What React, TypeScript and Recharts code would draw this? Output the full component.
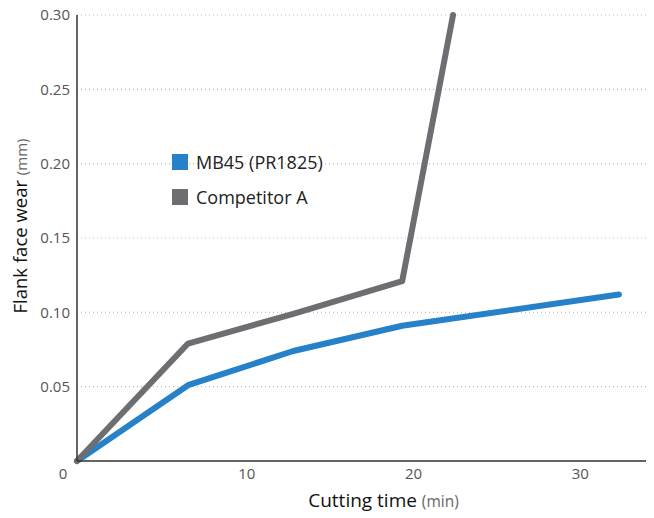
import React from 'react';
import { LineChart, Line, XAxis, YAxis, CartesianGrid } from 'recharts';

const mb45 = [
    { time: 0, wear: 0 },
    { time: 6.66, wear: 0.051 },
    { time: 12.97, wear: 0.074 },
    { time: 19.5, wear: 0.091 },
    { time: 32.5, wear: 0.112 },
];

const competitorA = [
    { time: 0, wear: 0 },
    { time: 6.66, wear: 0.079 },
    { time: 12.97, wear: 0.099 },
    { time: 19.5, wear: 0.121 },
    { time: 22.55, wear: 0.3 },
];

const xTicks = [0, 10, 20, 30];
const yTicks = [0.05, 0.1, 0.15, 0.2, 0.25, 0.3];

const series = [
    { name: 'MB45 (PR1825)', data: mb45, color: '#2681c8' },
    { name: 'Competitor A', data: competitorA, color: '#6d6e71' },
];

const FONT = '"Open Sans", "Noto Sans", sans-serif';

const XTick = (props: any) => {
    const { x, y, payload } = props;
    // the origin label sits left of the y axis
    const dx = payload.value === 0 ? -14 : 3;
    return (
        <text x={x + dx} y={y} dy="0.71em" textAnchor="middle" fill="#555" fontSize={15} fontFamily={FONT}>
            {payload.value}
        </text>
    );
};

const XLabel = (props: any) => {
    const { viewBox } = props;
    const cx = viewBox.x + viewBox.width / 2 + 18;
    return (
        <text x={cx} y={viewBox.y + 46} textAnchor="middle" fontFamily={FONT}>
            <tspan fontSize={19} fill="#111">Cutting time </tspan>
            <tspan fontSize={15.5} fill="#666">(min)</tspan>
        </text>
    );
};

const YLabel = (props: any) => {
    const { viewBox } = props;
    const cy = viewBox.y + viewBox.height / 2 - 12;
    const x = 27;
    return (
        <text x={x} y={cy} transform={`rotate(-90, ${x}, ${cy})`} textAnchor="middle" fontFamily={FONT}>
            <tspan fontSize={18.5} fill="#111">Flank face wear </tspan>
            <tspan fontSize={15} fill="#666">(mm)</tspan>
        </text>
    );
};

const ChartLegend = () => (
    <g fontFamily={FONT}>
        {series.map((s, i) => (
            <g key={s.name}>
                <rect x={172} y={154 + i * 35} width={16} height={16} fill={s.color} />
                <text x={196} y={168.5 + i * 35} fontSize={18} fill="#222">
                    {s.name}
                </text>
            </g>
        ))}
    </g>
);

export default function App() {
    return (
        <div style={{ margin: '-8px 0 0 -8px' }}>
            <LineChart width={654} height={518} margin={{ top: 15, right: 0, bottom: 0, left: 8 }}>
                <CartesianGrid vertical={false} stroke="#bbb" strokeDasharray="1 3" strokeWidth={1.2} />
                <XAxis
                    type="number"
                    dataKey="time"
                    domain={[0, 34.6]}
                    ticks={xTicks}
                    height={57}
                    axisLine={{ stroke: '#333', strokeWidth: 1.5 }}
                    tickLine={false}
                    tickSize={6}
                    tickMargin={1}
                    tick={<XTick />}
                    allowDuplicatedCategory={false}
                    label={<XLabel />}
                />
                <YAxis
                    type="number"
                    dataKey="wear"
                    domain={[0, 0.3]}
                    ticks={yTicks}
                    width={69}
                    axisLine={{ stroke: '#333', strokeWidth: 1.5 }}
                    tickLine={false}
                    tickSize={6}
                    tickMargin={1}
                    tick={{ fill: '#555', fontSize: 15, fontFamily: FONT }}
                    tickFormatter={(v: number) => v.toFixed(2)}
                    label={<YLabel />}
                />
                {series.map((s) => (
                    <Line
                        key={s.name}
                        data={s.data}
                        dataKey="wear"
                        name={s.name}
                        type="linear"
                        stroke={s.color}
                        strokeWidth={6}
                        strokeLinecap="round"
                        strokeLinejoin="round"
                        dot={false}
                        activeDot={false}
                        isAnimationActive={false}
                    />
                ))}
                <ChartLegend />
            </LineChart>
        </div>
    );
}
